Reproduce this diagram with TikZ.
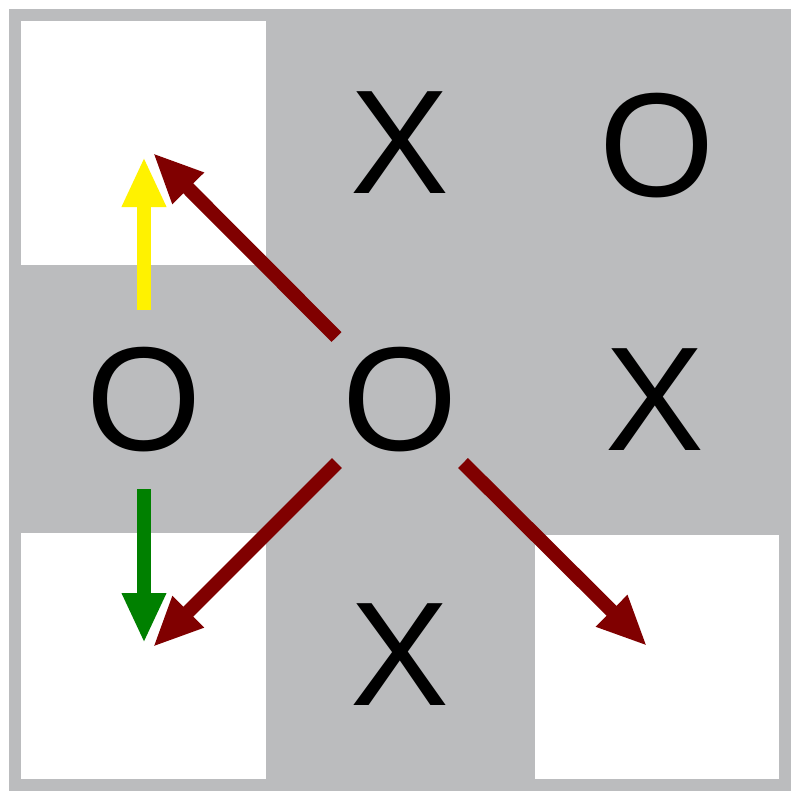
\documentclass[tikz,border=0pt]{standalone}
\usepackage{fontspec}
\setmainfont{Liberation Sans}
\usetikzlibrary{arrows.meta}
\definecolor{boardgray}{HTML}{BBBCBE}
\definecolor{darkred}{HTML}{800000}
\definecolor{mygreen}{HTML}{008000}
\begin{document}
\begin{tikzpicture}[x=1pt,y=-1pt,
  piece/.style={inner sep=0pt, font=\fontsize{148}{148}\selectfont},
  movearrow/.style={line width=14pt, -{Triangle[length=50pt,width=41pt]}}]
\useasboundingbox (0,0) rectangle (800,800);
\fill[white] (0,0) rectangle (800,800);
\fill[boardgray] (9,9) rectangle (791,791);
\fill[white] (21,21) rectangle (266,265);
\fill[white] (21,533) rectangle (266,779);
\fill[white] (535,535) rectangle (779,779);
\node[piece] (x12) at (400,143) {X};
\node[piece] (o13) at (657,146) {O};
\node[piece] (o21) at (144,400) {O};
\node[piece] (o22) at (400,400) {O};
\node[piece] (x23) at (655,400) {X};
\node[piece] (x32) at (400,655) {X};
\coordinate (ys) at (144,310);
\coordinate (ye) at (144,157);
\coordinate (gs) at (144,489);
\coordinate (ge) at (144,643);
\coordinate (r1s) at (336.5,337);
\coordinate (r1e) at (153,153);
\coordinate (r2s) at (337,463);
\coordinate (r2e) at (153,647);
\coordinate (r3s) at (463,463);
\coordinate (r3e) at (647,646);
\draw[movearrow, yellow] (ys) -- (ye);
\draw[movearrow, mygreen] (gs) -- (ge);
\draw[movearrow, darkred] (r1s) -- (r1e);
\draw[movearrow, darkred] (r2s) -- (r2e);
\draw[movearrow, darkred] (r3s) -- (r3e);
\end{tikzpicture}
\end{document}
